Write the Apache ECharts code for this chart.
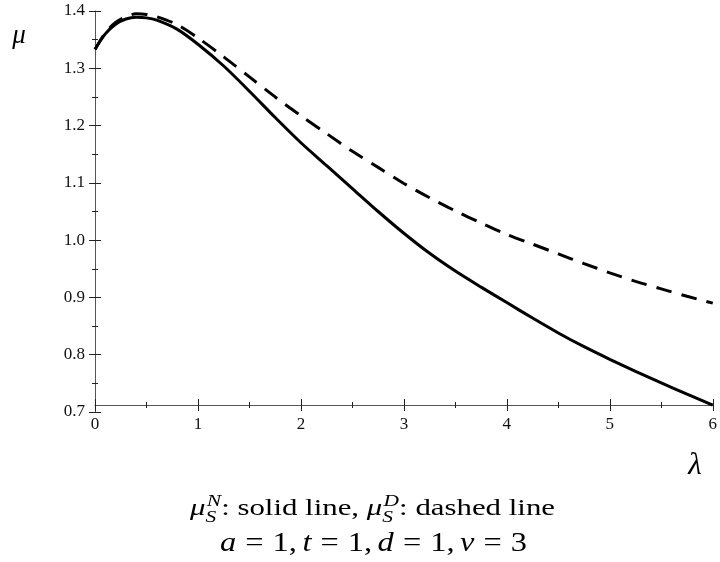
<!DOCTYPE html>
<html>
<head>
<meta charset="utf-8">
<script src="https://cdn.jsdelivr.net/npm/echarts@6/dist/echarts.min.js"></script>
<style>
html,body{margin:0;padding:0;background:#fff;}
#chart{width:720px;height:562px;}
</style>
</head>
<body>
<div id="chart"></div>
<script>
// ---- data ----
const lambdaValues = [0, 0.1, 0.2, 0.3, 0.4, 0.5, 0.6, 0.8, 1.0, 1.25, 1.5, 1.75, 2.0, 2.25, 2.5, 2.75, 3.0, 3.25, 3.5, 3.75, 4.0, 4.25, 4.5, 4.75, 5.0, 5.25, 5.5, 5.75, 6.0];
const muSolid = [1.333, 1.360, 1.377, 1.386, 1.389, 1.388, 1.384, 1.368, 1.342, 1.304, 1.260, 1.214, 1.170, 1.130, 1.090, 1.050, 1.012, 0.977, 0.946, 0.918, 0.891, 0.864, 0.838, 0.814, 0.792, 0.771, 0.751, 0.731, 0.712];
const muDashed = [1.333, 1.362, 1.380, 1.390, 1.395, 1.394, 1.390, 1.376, 1.353, 1.320, 1.285, 1.250, 1.217, 1.186, 1.155, 1.127, 1.099, 1.074, 1.051, 1.030, 1.010, 0.993, 0.976, 0.959, 0.943, 0.928, 0.915, 0.902, 0.890];
const xTickLabels = ['0', '1', '2', '3', '4', '5', '6'];
const yTickLabels = ['0.7', '0.8', '0.9', '1.0', '1.1', '1.2', '1.3', '1.4'];

const FAM = '"Liberation Serif", "Times New Roman", serif';
const chart = echarts.init(document.getElementById('chart'), null, {renderer: 'canvas'});

const cv = document.createElement('canvas');
const cx2 = cv.getContext('2d');
function fontStr(sz, it) { return (it ? 'italic ' : '') + sz + 'px ' + FAM; }
function measure(t, f) { cx2.font = f; return cx2.measureText(t).width; }

function buildLine(pieces, left, right, baseline) {
  const items = [];
  let x = 0;
  pieces.forEach(p => {
    if (p.gap !== undefined) { x += p.gap; return; }
    if (p.stack) {
      let w = 0;
      p.stack.forEach(s => {
        const f = fontStr(s.size, s.it);
        items.push({t: s.t, f, x: x + (s.dx || 0), dy: s.dy, size: s.size});
        w = Math.max(w, measure(s.t, f) + (s.dx || 0));
      });
      x += w;
      return;
    }
    const f = fontStr(p.size, p.it);
    items.push({t: p.t, f, x, dy: 0, size: p.size});
    x += measure(p.t, f);
  });
  const sc = (right - left) / x;
  return items.map(it => ({
    type: 'text',
    silent: true,
    x: left + it.x * sc,
    y: baseline + it.dy - 0.33 * it.size,
    scaleX: sc,
    style: {
      text: it.t,
      x: 0,
      y: 0,
      font: it.f,
      fill: '#000',
      textAlign: 'left',
      textVerticalAlign: 'middle'
    }
  }));
}

const S1 = 23, SS = 16;
const line1 = [
  {t: 'μ', it: true, size: S1},
  {stack: [{t: 'N', it: true, size: SS, dy: -10, dx: 1}, {t: 'S', it: true, size: SS, dy: 6}]},
  {t: ':', size: S1},
  {t: ' solid line, ', size: S1},
  {t: 'μ', it: true, size: S1},
  {stack: [{t: 'D', it: true, size: SS, dy: -10, dx: 1}, {t: 'S', it: true, size: SS, dy: 6}]},
  {t: ':', size: S1},
  {t: ' dashed line', size: S1}
];
const S2 = 27;
const th = S2 * 0.28, tn = S2 * 0.17;
const line2 = [
  {t: 'a', it: true, size: S2}, {gap: th}, {t: '=', size: S2}, {gap: th}, {t: '1', size: S2}, {t: ',', size: S2}, {gap: tn},
  {t: 't', it: true, size: S2}, {gap: th}, {t: '=', size: S2}, {gap: th}, {t: '1', size: S2}, {t: ',', size: S2}, {gap: tn},
  {t: 'd', it: true, size: S2}, {gap: th}, {t: '=', size: S2}, {gap: th}, {t: '1', size: S2}, {t: ',', size: S2}, {gap: tn},
  {t: 'v', it: true, size: S2}, {gap: th}, {t: '=', size: S2}, {gap: th}, {t: '3', size: S2}
];

const graphics = [].concat(
  buildLine(line1, 190, 555, 517),
  buildLine(line2, 220, 527, 553),
  [
    {type: 'text', silent: true, style: {text: 'μ', x: 19, y: 36, font: fontStr(27, true), fill: '#000', textAlign: 'center', textVerticalAlign: 'middle'}},
    {type: 'text', silent: true, style: {text: 'λ', x: 695, y: 466, font: fontStr(31, true), fill: '#000', textAlign: 'center', textVerticalAlign: 'middle'}}
  ]
);

const axisColor = '#555';
const tickColor = '#222';
function xAx(inside) {
  return {
    type: 'value', min: 0, max: 6, interval: 1, position: 'bottom', offset: -7,
    axisLine: {show: !inside, lineStyle: {color: axisColor, width: 1}},
    axisTick: {show: true, inside: inside, length: 6, lineStyle: {color: tickColor, width: 1}},
    minorTick: {show: true, splitNumber: 2, length: 3, lineStyle: {color: tickColor, width: 1}},
    splitLine: {show: false},
    axisLabel: {
      show: !inside, margin: 11, color: '#111', fontFamily: FAM, fontSize: 17,
      formatter: v => xTickLabels[Math.round(v)] !== undefined ? xTickLabels[Math.round(v)] : ''
    }
  };
}
function yAx(inside) {
  return {
    type: 'value', min: 0.7, max: 1.4, interval: 0.1, position: 'left',
    axisLine: {show: !inside, onZero: false, lineStyle: {color: axisColor, width: 1}},
    axisTick: {show: true, inside: inside, length: 6, lineStyle: {color: tickColor, width: 1}},
    minorTick: {show: true, splitNumber: 2, length: 3, lineStyle: {color: tickColor, width: 1}},
    splitLine: {show: false},
    axisLabel: {
      show: !inside, margin: 10, color: '#111', fontFamily: FAM, fontSize: 17, padding: [8, 0, 0, 0],
      formatter: v => yTickLabels[Math.round((v - 0.7) * 10)] || ''
    }
  };
}

chart.setOption({
  animation: false,
  backgroundColor: '#fff',
  grid: {left: 95, right: 2, top: 11, bottom: 150, containLabel: false},
  xAxis: [xAx(false), xAx(true)],
  yAxis: [yAx(false), yAx(true)],
  graphic: {elements: graphics},
  series: [
    {
      name: 'muN', type: 'line', xAxisIndex: 0, yAxisIndex: 0,
      data: lambdaValues.map((x, i) => [x, muSolid[i]]),
      showSymbol: false, smooth: 0.3, clip: false,
      lineStyle: {color: '#000', width: 3}
    },
    {
      name: 'muD', type: 'line', xAxisIndex: 0, yAxisIndex: 0,
      data: lambdaValues.map((x, i) => [x, muDashed[i]]),
      showSymbol: false, smooth: 0.3, clip: false,
      lineStyle: {color: '#000', width: 3, type: [16, 10]}
    }
  ]
});
</script>
</body>
</html>
